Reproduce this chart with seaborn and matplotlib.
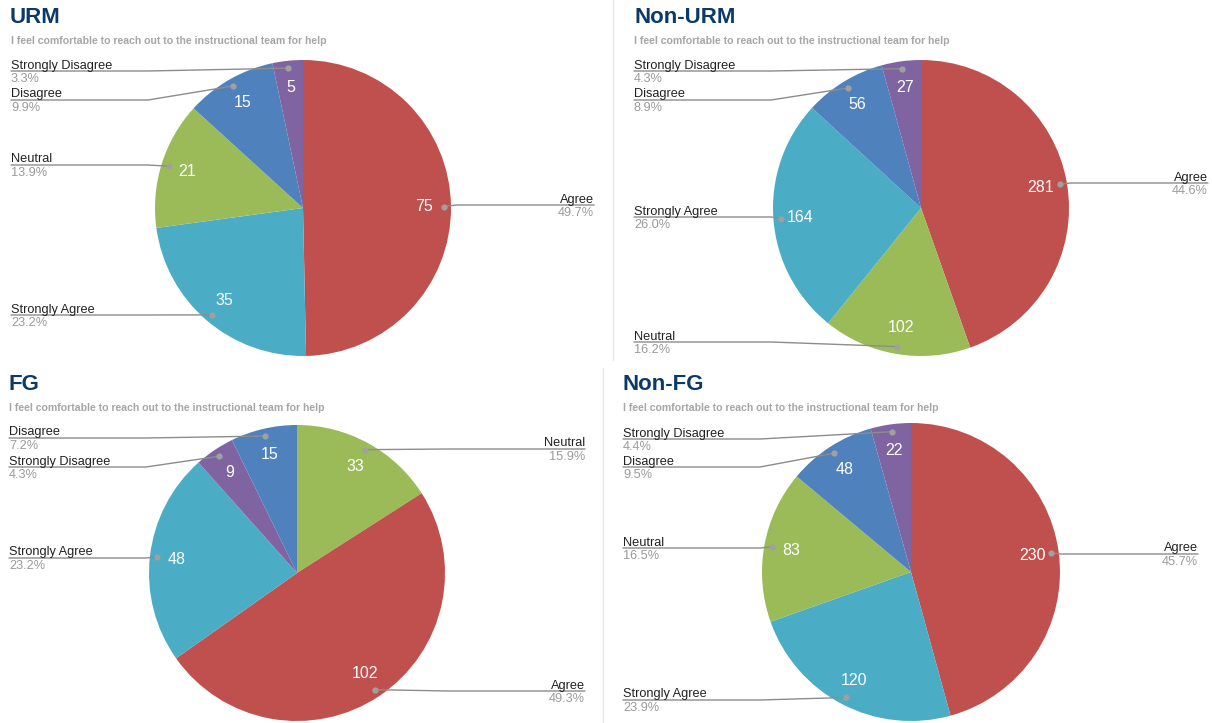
import matplotlib
matplotlib.use("Agg")
import numpy as np
import matplotlib.pyplot as plt
import seaborn as sns

# survey answers, slices listed clockwise from 12 o'clock
question = "I feel comfortable to reach out to the instructional team for help"

urm_labels = ["Agree", "Strongly Agree", "Neutral", "Disagree", "Strongly Disagree"]
urm_counts = [75, 35, 21, 15, 5]

nonurm_labels = ["Agree", "Neutral", "Strongly Agree", "Disagree", "Strongly Disagree"]
nonurm_counts = [281, 102, 164, 56, 27]

fg_labels = ["Neutral", "Agree", "Strongly Agree", "Strongly Disagree", "Disagree"]
fg_counts = [33, 102, 48, 9, 15]

nonfg_labels = ["Agree", "Strongly Agree", "Neutral", "Disagree", "Strongly Disagree"]
nonfg_counts = [230, 120, 83, 48, 22]

answer_colors = {
    "Agree": "#c0504d",
    "Strongly Agree": "#4bacc6",
    "Neutral": "#9bbb59",
    "Disagree": "#4f81bd",
    "Strongly Disagree": "#8064a2",
}

W, H = 1212, 723
NAVY = "#0b3a66"
GREY = "#9a9a9a"

sns.set_theme(style="white")
plt.rcParams['font.family'] = ['Liberation Sans', 'DejaVu Sans']

# layout for each panel (pixel positions, y measured from the top)
panels = [
    dict(title="URM", labels=urm_labels, counts=urm_counts, center=(303, 208), r=148,
         tx=10, ty=23, sy=44, left_x=11, right_x=594,
         line_y={"Strongly Disagree": 71, "Disagree": 100, "Neutral": 165,
                 "Strongly Agree": 315, "Agree": 205}),
    dict(title="Non-URM", labels=nonurm_labels, counts=nonurm_counts, center=(921, 208), r=148,
         tx=634, ty=23, sy=44, left_x=634, right_x=1208,
         line_y={"Strongly Disagree": 71, "Disagree": 100, "Strongly Agree": 217,
                 "Neutral": 342, "Agree": 183}),
    dict(title="FG", labels=fg_labels, counts=fg_counts, center=(297, 573), r=148,
         tx=8, ty=390, sy=411, left_x=9, right_x=585,
         line_y={"Disagree": 438, "Strongly Disagree": 467, "Strongly Agree": 558,
                 "Neutral": 449, "Agree": 691}),
    dict(title="Non-FG", labels=nonfg_labels, counts=nonfg_counts, center=(911, 572), r=149,
         tx=623, ty=390, sy=411, left_x=623, right_x=1198,
         line_y={"Strongly Disagree": 439, "Disagree": 467, "Neutral": 548,
                 "Strongly Agree": 700, "Agree": 554}),
]

fig = plt.figure(figsize=(W / 100, H / 100), dpi=100)
ax = fig.add_axes([0, 0, 1, 1])


def draw_panel(ax, p):
    cx, cy = p["center"][0], H - p["center"][1]
    r = p["r"]
    total = sum(p["counts"])
    colors = [answer_colors[l] for l in p["labels"]]
    wedges, _, values = ax.pie(
        p["counts"], colors=colors, center=(cx, cy), radius=r,
        startangle=90, counterclock=False,
        autopct=lambda pct: f"{pct * total / 100:.0f}", pctdistance=0.82,
        wedgeprops=dict(linewidth=0),
        textprops=dict(color="white", fontsize=11.5))

    for w, lab, n in zip(wedges, p["labels"], p["counts"]):
        ang = np.deg2rad((w.theta1 + w.theta2) / 2)
        dx = cx + 0.95 * r * np.cos(ang)
        dy = cy + 0.95 * r * np.sin(ang)
        ly = H - p["line_y"][lab]
        share = f"{100 * n / total:.1f}%"
        if dx > cx:
            x_end = p["right_x"]
            elbow = x_end - 137
            ax.plot([dx, elbow, x_end], [dy, ly, ly], color="#8c8c8c", lw=1, zorder=3)
            ha = "right"
        else:
            x_end = p["left_x"]
            elbow = min(x_end + 137, dx)
            ax.plot([x_end, elbow, dx], [ly, ly, dy], color="#8c8c8c", lw=1, zorder=3)
            ha = "left"
        ax.plot(dx, dy, "o", ms=4.5, color="#a0a0a0", mec="none", zorder=4)
        ax.text(x_end, ly + 2.5, lab, ha=ha, va="baseline", fontsize=9.2, color="#222222")
        ax.text(x_end, ly - 2, share, ha=ha, va="top", fontsize=9.2, color=GREY)

    ax.text(p["tx"], H - p["ty"], p["title"], fontsize=16, weight="bold",
            color=NAVY, va="baseline")
    ax.text(p["left_x"], H - p["sy"], question, fontsize=7.6, weight="bold",
            color="#a6a6a6", va="baseline")


for p in panels:
    draw_panel(ax, p)

# faint seams between the stitched screenshots
ax.plot([613, 613], [H, H - 360], color="#e8e8e8", lw=1)
ax.plot([603, 603], [H - 368, 0], color="#e8e8e8", lw=1)

ax.set_xlim(0, W)
ax.set_ylim(0, H)
ax.set_aspect("equal")
ax.axis("off")

fig.savefig("out.png", dpi=100, facecolor="white")
